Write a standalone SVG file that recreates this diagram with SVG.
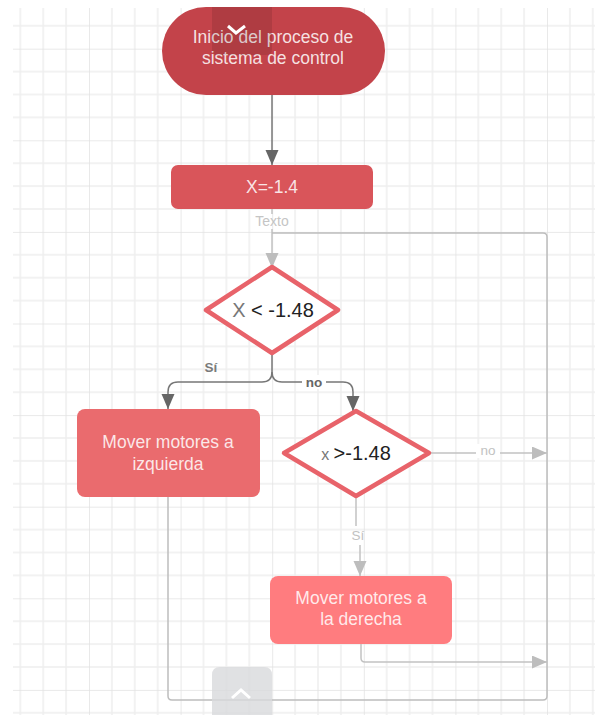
<svg xmlns="http://www.w3.org/2000/svg" width="595" height="715" viewBox="0 0 595 715">
<defs>
<style>
.t{font-family:"Liberation Sans",Arial,sans-serif;text-anchor:middle}
.w{fill:#ffffff;fill-opacity:0.85;font-size:17.5px}
.dk{fill:none;stroke:#777777;stroke-width:1.5}
.lt{fill:none;stroke:#c2c2c2;stroke-width:1.5}
.lp{fill:none;stroke:#bdbdbd;stroke-width:1.5}
.dia{fill:#ffffff;stroke:#e8636a;stroke-width:4.5;stroke-linejoin:round}
</style>
<pattern id="grid" patternUnits="userSpaceOnUse" x="89" y="48.7" width="91.6" height="91.6">
<path d="M22.9,0V91.6M45.8,0V91.6M68.7,0V91.6M0,22.9H91.6M0,45.8H91.6M0,68.7H91.6" stroke="#eeeeee" stroke-width="1.5" fill="none"/>
<path d="M0,0V91.6M0,0H91.6" stroke="#e2e2e2" stroke-width="1.5" fill="none"/>
</pattern>
<marker id="ad" markerUnits="userSpaceOnUse" markerWidth="16" markerHeight="14" refX="15" refY="6.5" orient="auto">
<path d="M0,0L15,6.5L0,13Z" fill="#666666"/>
</marker>
<marker id="al" markerUnits="userSpaceOnUse" markerWidth="16" markerHeight="14" refX="15" refY="6.5" orient="auto">
<path d="M0,0L15,6.5L0,13Z" fill="#bdbdbd"/>
</marker>
</defs>
<rect x="0" y="0" width="595" height="715" fill="#ffffff"/>
<rect x="13" y="8" width="582" height="707" fill="url(#grid)"/>

<g id="connectors">
<path class="dk" d="M272,95V165" marker-end="url(#ad)"/>
<path class="lt" d="M272,209V214M272,229V268" marker-end="url(#al)"/>
<path class="lp" d="M168,497V696Q168,700 172,700H543Q547,700 547,696V237Q547,233 543,233H272"/>
<path class="dk" d="M272,353V372Q272,382 262,382H178Q168,382 168,392V409" marker-end="url(#ad)"/>
<path class="dk" d="M272,372Q272,382 282,382H343Q353,382 353,392V411" marker-end="url(#ad)"/>
<path class="lt" d="M429,453H547" marker-end="url(#al)"/>
<path class="lt" d="M356,497V526M360,545V576" marker-end="url(#al)"/>
<path class="lt" d="M361,644V658Q361,662 365,662H547" marker-end="url(#al)"/>
<rect x="476" y="444" width="24" height="14" fill="#ffffff"/>
<rect x="302" y="375" width="24" height="14" fill="#ffffff"/>
<text class="t" x="272" y="226" font-size="14" fill="#c5c5c5">Texto</text>
<text class="t" x="211" y="372" font-size="13.5" font-weight="bold" fill="#7a7a7a">Sí</text>
<text class="t" x="314" y="387" font-size="13.5" font-weight="bold" fill="#666666">no</text>
<text class="t" x="488" y="455" font-size="13.5" fill="#c2c2c2">no</text>
<text class="t" x="358" y="540" font-size="13.5" fill="#c2c2c2">Sí</text>
</g>

<g id="start">
<rect x="162" y="7" width="223" height="88" rx="44" fill="#c3434a"/>
<text class="t w" x="273" y="43">Inicio del proceso de</text>
<text class="t w" x="273" y="64">sistema de control</text>
<path d="M212,7H272V49Q272,55 266,55H218Q212,55 212,49Z" fill="#000000" fill-opacity="0.1"/>
<path d="M228,26L236,33L245,26" fill="none" stroke="#ffffff" stroke-width="3"/>
</g>

<g id="init">
<rect x="171" y="165" width="202" height="44" rx="7" fill="#d9555a"/>
<text class="t w" x="272" y="193">X=-1.4</text>
</g>

<g id="cond1">
<path class="dia" d="M272,267L338,310L272,353L206,310Z"/>
<text class="t" x="273" y="317" font-size="20"><tspan fill="#777777">X</tspan><tspan fill="#222222"> &lt; -1.48</tspan></text>
</g>

<g id="left">
<rect x="77" y="409" width="183" height="88" rx="8" fill="#ea6b6e"/>
<text class="t w" x="168" y="448">Mover motores a</text>
<text class="t w" x="168" y="470">izquierda</text>
</g>

<g id="cond2">
<path class="dia" d="M356,411L429,453L356,496L284,453Z"/>
<text class="t" x="356" y="460" font-size="20"><tspan fill="#777777" font-size="16">x </tspan><tspan fill="#222222">&gt;-1.48</tspan></text>
</g>

<g id="right">
<rect x="270" y="576" width="182" height="68" rx="8" fill="#ff7c7f"/>
<text class="t w" x="361" y="604">Mover motores a</text>
<text class="t w" x="361" y="625">la derecha</text>
</g>

<g id="ui">
<path d="M212,715V675Q212,667 220,667H264Q272,667 272,675V715Z" fill="#d8d9dc" fill-opacity="0.8"/>
<path d="M232,698L241,690L250,698" fill="none" stroke="#ffffff" stroke-width="3"/>
</g>
</svg>
